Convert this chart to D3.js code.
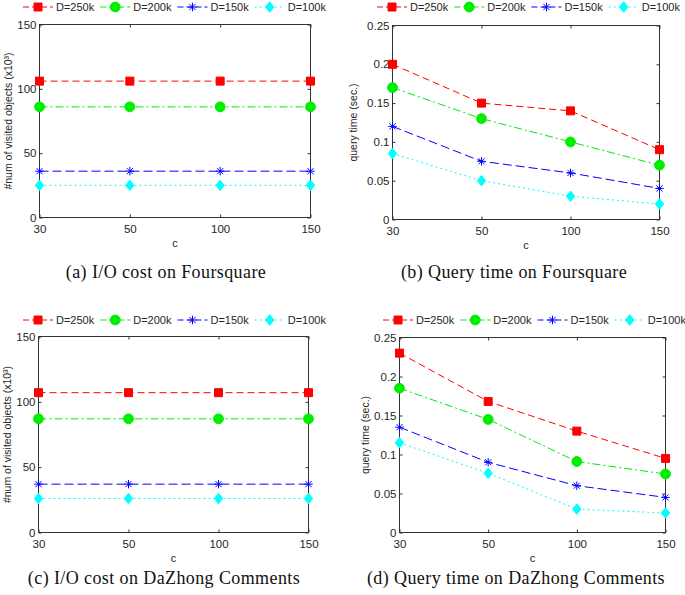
<!DOCTYPE html>
<html>
<head>
<meta charset="utf-8">
<script src="https://cdn.jsdelivr.net/npm/d3@7"></script>
<style>
  body { margin: 0; background: #fff; }
  svg text { font-family: Arial, "Liberation Sans", sans-serif; fill: #262626; }
  .caption { font-family: "Liberation Serif", "Times New Roman", serif; fill: #111; }
</style>
</head>
<body>
<svg id="chart" width="685" height="595"></svg>
<script>
// x categories (c) and legend names
const cValues = ['30', '50', '100', '150'];
const seriesNames = ['D=250k', 'D=200k', 'D=150k', 'D=100k'];

// one row per series, in the order of seriesNames
const ioFoursquare = [
  [106, 106, 106, 106],
  [86, 86, 86, 86],
  [36, 36, 36, 36],
  [25, 25, 25, 25]
];
const timeFoursquare = [
  [0.2, 0.15, 0.14, 0.09],
  [0.17, 0.13, 0.1, 0.07],
  [0.12, 0.075, 0.06, 0.04],
  [0.085, 0.05, 0.03, 0.02]
];
const ioDazhong = [
  [107, 107, 107, 107],
  [87, 87, 87, 87],
  [37, 37, 37, 37],
  [26, 26, 26, 26]
];
const timeDazhong = [
  [0.23, 0.168, 0.13, 0.095],
  [0.185, 0.145, 0.091, 0.075],
  [0.135, 0.09, 0.06, 0.045],
  [0.115, 0.076, 0.03, 0.025]
];

const ioTicks = [0, 50, 100, 150];
const timeTicks = [0, 0.05, 0.1, 0.15, 0.2, 0.25];

const ioLabel = '#num of visited objects (x10\u00B3)';
const timeLabel = 'query time (sec.)';
const captions = [
  '(a) I/O cost on Foursquare',
  '(b) Query time on Foursquare',
  '(c) I/O cost on DaZhong Comments',
  '(d) Query time on DaZhong Comments'
];

// matlab-ish markers
const asterisk = {
  draw(ctx, size) {
    const r = Math.sqrt(size) / 2, d = r * 0.72;
    ctx.moveTo(-r, 0); ctx.lineTo(r, 0);
    ctx.moveTo(0, -r); ctx.lineTo(0, r);
    ctx.moveTo(-d, -d); ctx.lineTo(d, d);
    ctx.moveTo(-d, d); ctx.lineTo(d, -d);
  }
};
const diamond = {
  draw(ctx, size) {
    const h = Math.sqrt(size) / 2, w = h * 0.8;
    ctx.moveTo(0, -h); ctx.lineTo(w, 0); ctx.lineTo(0, h); ctx.lineTo(-w, 0); ctx.closePath();
  }
};

const styles = [
  {color: '#ff0000', dash: '7,4', type: d3.symbolSquare, size: 64, fill: true},
  {color: '#00ee00', dash: '8,3,2,3', type: d3.symbolCircle, size: 76, fill: true},
  {color: '#0000ff', dash: '9,4', type: asterisk, size: 72, fill: false},
  {color: '#00ffff', dash: '2,3', type: diamond, size: 110, fill: true}
];

const svg = d3.select('#chart');

function drawPanel(cfg) {
  const g = svg.append('g');
  const x = d3.scalePoint().domain(cValues).range([cfg.x0, cfg.x1]);
  const y = d3.scaleLinear().domain(d3.extent(cfg.ticks)).range([cfg.y1, cfg.y0]);

  // axes with inward ticks, plus box ticks on top / right
  const fmt = d => String(d);
  const ax = g.append('g').attr('class', 'axes');
  ax.append('g').attr('transform', `translate(0,${cfg.y1})`)
    .call(d3.axisBottom(x).tickSizeInner(-3).tickSizeOuter(0).tickPadding(7));
  ax.append('g').attr('transform', `translate(0,${cfg.y0})`)
    .call(d3.axisTop(x).tickSizeInner(-3).tickSizeOuter(0).tickFormat(''));
  ax.append('g').attr('transform', `translate(${cfg.x0},0)`)
    .call(d3.axisLeft(y).tickValues(cfg.ticks).tickFormat(fmt).tickSizeInner(-3).tickSizeOuter(0).tickPadding(3));
  ax.append('g').attr('transform', `translate(${cfg.x1},0)`)
    .call(d3.axisRight(y).tickValues(cfg.ticks).tickFormat('').tickSizeInner(-3).tickSizeOuter(0));
  ax.selectAll('.domain').remove();
  ax.selectAll('line').attr('stroke', '#333');
  ax.selectAll('text').style('font-size', '11.5px').attr('fill', '#262626');

  g.append('rect')
    .attr('x', cfg.x0).attr('y', cfg.y0)
    .attr('width', cfg.x1 - cfg.x0).attr('height', cfg.y1 - cfg.y0)
    .attr('fill', 'none').attr('stroke', '#333').attr('stroke-width', 1);

  const line = d3.line().x((d, i) => x(cValues[i])).y(d => y(d));

  cfg.data.forEach((vals, si) => {
    const s = styles[si];
    g.append('path')
      .attr('d', line(vals))
      .attr('fill', 'none')
      .attr('stroke', s.color)
      .attr('stroke-width', 1)
      .attr('stroke-dasharray', s.dash);
    g.selectAll(null)
      .data(vals)
      .join('path')
      .attr('transform', (d, i) => `translate(${x(cValues[i])},${y(d)})`)
      .attr('d', d3.symbol().type(s.type).size(s.size))
      .attr('fill', s.fill ? s.color : 'none')
      .attr('stroke', s.color)
      .attr('stroke-width', 1);
  });

  // legend across the top
  let lx = cfg.lx;
  seriesNames.forEach((name, si) => {
    const s = styles[si];
    const item = g.append('g');
    item.append('line')
      .attr('x1', lx).attr('x2', lx + 30)
      .attr('y1', cfg.ly).attr('y2', cfg.ly)
      .attr('stroke', s.color).attr('stroke-dasharray', s.dash === '2,3' ? '2,3' : '6,3');
    item.append('path')
      .attr('transform', `translate(${lx + 15},${cfg.ly})`)
      .attr('d', d3.symbol().type(s.type).size(s.size))
      .attr('fill', s.fill ? s.color : 'none')
      .attr('stroke', s.color);
    const t = item.append('text')
      .attr('x', lx + 33).attr('y', cfg.ly).attr('dy', '0.36em')
      .style('font-size', '11px')
      .text(name);
    lx += 33 + t.node().getComputedTextLength() + 6;
  });

  // axis titles
  g.append('text')
    .attr('x', (cfg.x0 + cfg.x1) / 2).attr('y', cfg.y1 + 29)
    .attr('text-anchor', 'middle')
    .style('font-size', '11px')
    .text('c');
  g.append('text')
    .attr('transform', `translate(${cfg.ylx},${(cfg.y0 + cfg.y1) / 2}) rotate(-90)`)
    .attr('text-anchor', 'middle')
    .style('font-size', '10.5px')
    .text(cfg.ylabel);

  svg.append('text')
    .attr('class', 'caption')
    .attr('x', cfg.capX).attr('y', cfg.capY)
    .attr('text-anchor', 'middle')
    .style('font-size', '18px')
    .style('letter-spacing', '0.4px')
    .text(cfg.caption);
}

drawPanel({data: ioFoursquare, ticks: ioTicks, ylabel: ioLabel, caption: captions[0],
  x0: 39.5, x1: 310.5, y0: 24.5, y1: 217.5, lx: 23, ly: 7, ylx: 12, capX: 166, capY: 278});
drawPanel({data: timeFoursquare, ticks: timeTicks, ylabel: timeLabel, caption: captions[1],
  x0: 392.5, x1: 659.5, y0: 25.5, y1: 219.5, lx: 377, ly: 7, ylx: 357, capX: 514, capY: 278});
drawPanel({data: ioDazhong, ticks: ioTicks, ylabel: ioLabel, caption: captions[2],
  x0: 38.5, x1: 308.5, y0: 336.5, y1: 532.5, lx: 23, ly: 320, ylx: 11, capX: 164, capY: 584});
drawPanel({data: timeDazhong, ticks: timeTicks, ylabel: timeLabel, caption: captions[3],
  x0: 399.5, x1: 665.5, y0: 337.5, y1: 532.5, lx: 383, ly: 320, ylx: 369, capX: 516, capY: 584});
</script>
</body>
</html>
